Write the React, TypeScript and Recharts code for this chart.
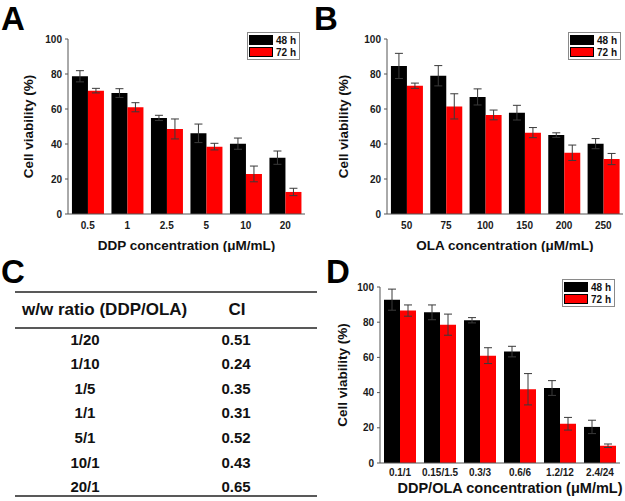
import { Bar, BarChart, ErrorBar, Legend, XAxis, YAxis } from "recharts";

const FONT = '"Liberation Sans", Arial, Helvetica, sans-serif';
const BLACK = "#000000";
const RED = "#ff0000";
const ERR = "#3a3a3a";

// ── panel A: DDP alone ──
const ddpDoses = ["0.5", "1", "2.5", "5", "10", "20"];
const ddp48 = [78.7, 69.1, 54.9, 46.1, 40.2, 32.2];
const ddp48Err = [3.2, 2.5, 1.5, 5.3, 3.2, 3.8];
const ddp72 = [70.5, 61.0, 48.6, 38.5, 22.9, 12.6];
const ddp72Err = [1.3, 2.6, 5.7, 1.9, 4.5, 2.1];

// ── panel B: OLA alone ──
const olaDoses = ["50", "75", "100", "150", "200", "250"];
const ola48 = [84.6, 79.0, 66.9, 57.9, 45.1, 40.2];
const ola48Err = [7.2, 5.8, 4.6, 4.2, 1.3, 2.9];
const ola72 = [73.3, 61.5, 56.6, 46.5, 35.0, 31.4];
const ola72Err = [1.5, 7.2, 2.8, 2.9, 4.4, 3.2];

// ── panel D: combination ──
const comboDoses = ["0.1/1", "0.15/1.5", "0.3/3", "0.6/6", "1.2/12", "2.4/24"];
const combo48 = [92.8, 85.6, 81.1, 63.3, 42.6, 20.5];
const combo48Err = [6.0, 4.2, 1.5, 3.0, 4.2, 3.8];
const combo72 = [86.6, 78.6, 61.0, 41.9, 22.3, 9.8];
const combo72Err = [3.2, 6.0, 4.5, 8.9, 3.6, 1.0];

// ── panel C: combination index table ──
const ratios = ["1/20", "1/10", "1/5", "1/1", "5/1", "10/1", "20/1"];
const ciValues = ["0.51", "0.24", "0.35", "0.31", "0.52", "0.43", "0.65"];

const yTicks = [0, 20, 40, 60, 80, 100];

function rows(cats: string[], a: number[], ae: number[], b: number[], be: number[]) {
  return cats.map((c, i) => ({ dose: c, h48: a[i], e48: ae[i], h72: b[i], e72: be[i] }));
}

function LegendBox() {
  const item = (color: string, text: string) => (
    <div style={{ display: "flex", alignItems: "center", height: 12 }}>
      <div style={{ width: 24, height: 10, background: color, border: "1px solid #000", boxSizing: "border-box" }} />
      <span style={{ marginLeft: 3, fontSize: 10, fontWeight: 700, color: "#111", fontFamily: FONT }}>{text}</span>
    </div>
  );
  return (
    <div style={{ border: "1px solid #8a8a8a", background: "#fff", padding: "1px 3px 1px 1px" }}>
      {item(BLACK, "48 h")}
      {item(RED, "72 h")}
    </div>
  );
}

type PanelProps = {
  data: ReturnType<typeof rows>;
  left: number;
  top: number;
  width: number;
  height: number;
  plotTop: number;
  plotRight: number;
  yWidth: number;
  xHeight: number;
  xTickMargin: number;
  xTitle: string;
  xTitleSize: number;
  xTitleOffset: number;
  xTitleDx?: number;
  yTitleOffset: number;
  legendPos: { left: number; top: number };
};

function ViabilityPanel(p: PanelProps) {
  const tickStyle = { fontSize: 10, fontWeight: 700, fill: "#1a1a1a", fontFamily: FONT };
  return (
    <div style={{ position: "absolute", left: p.left, top: p.top }}>
      <BarChart
        width={p.width}
        height={p.height}
        data={p.data}
        margin={{ top: p.plotTop, right: p.plotRight, bottom: 0, left: 0 }}
        barCategoryGap="10%"
        barGap={0}
      >
        <XAxis
          dataKey="dose"
          height={p.xHeight}
          tickLine={false}
          tickSize={6}
          tickMargin={p.xTickMargin}
          axisLine={{ stroke: "#555", strokeWidth: 1 }}
          tick={tickStyle}
          interval={0}
          label={{
            value: p.xTitle,
            position: "insideBottom",
            offset: p.xTitleOffset,
            dx: p.xTitleDx ?? 0,
            style: { fontSize: p.xTitleSize, fontWeight: 700, fill: "#111", fontFamily: FONT },
          }}
        />
        <YAxis
          width={p.yWidth}
          domain={[0, 100]}
          ticks={yTicks}
          tickSize={3}
          tickMargin={3}
          tickLine={{ stroke: "#555" }}
          axisLine={{ stroke: "#555", strokeWidth: 1 }}
          tick={tickStyle}
          label={{
            value: "Cell viability (%)",
            angle: -90,
            position: "insideLeft",
            offset: p.yTitleOffset,
            style: { textAnchor: "middle", fontSize: 13.5, fontWeight: 700, fill: "#111", fontFamily: FONT },
          }}
        />
        <Legend
          layout="vertical"
          align="center"
          verticalAlign="middle"
          content={() => <LegendBox />}
          wrapperStyle={{ left: p.legendPos.left, top: p.legendPos.top, width: "auto", height: "auto" }}
        />
        <Bar dataKey="h48" name="48 h" fill={BLACK} isAnimationActive={false}>
          <ErrorBar dataKey="e48" width={4} stroke={ERR} strokeWidth={1} direction="y" isAnimationActive={false} />
        </Bar>
        <Bar dataKey="h72" name="72 h" fill={RED} isAnimationActive={false}>
          <ErrorBar dataKey="e72" width={4} stroke={ERR} strokeWidth={1} direction="y" isAnimationActive={false} />
        </Bar>
      </BarChart>
    </div>
  );
}

function CITable() {
  const baseY = (i: number) => 344.5 + i * 24.6;
  const text = { fontFamily: FONT, fontWeight: 700, fill: "#111" } as const;
  return (
    <svg width={625} height={501} style={{ position: "absolute", left: 0, top: 0, pointerEvents: "none" }}>
      <line x1={15} x2={317} y1={292} y2={292} stroke="#222" strokeWidth={1.5} />
      <text x={22} y={315} fontSize={17} {...text}>
        w/w ratio (DDP/OLA)
      </text>
      <text x={237} y={315} fontSize={17} textAnchor="middle" {...text}>
        CI
      </text>
      <line x1={15} x2={317} y1={328} y2={328} stroke="#222" strokeWidth={1.5} />
      {ratios.map((r, i) => (
        <g key={r}>
          <text x={85} y={baseY(i)} fontSize={15} textAnchor="middle" {...text}>
            {r}
          </text>
          <text x={236} y={baseY(i)} fontSize={15} textAnchor="middle" {...text}>
            {ciValues[i]}
          </text>
        </g>
      ))}
      <line x1={15} x2={317} y1={496} y2={496} stroke="#222" strokeWidth={1.5} />
      <text x={1} y={30} fontSize={33} {...text} fill="#000">A</text>
      <text x={314} y={30} fontSize={33} {...text} fill="#000">B</text>
      <text x={1} y={283} fontSize={33} {...text} fill="#000">C</text>
      <text x={326} y={283} fontSize={33} {...text} fill="#000">D</text>
    </svg>
  );
}

export default function App() {
  return (
    <div style={{ position: "fixed", left: 0, top: 0, width: 625, height: 501, background: "#fff", fontFamily: FONT }}>
      <ViabilityPanel
        data={rows(ddpDoses, ddp48, ddp48Err, ddp72, ddp72Err)}
        left={0}
        top={0}
        width={310}
        height={252}
        plotTop={39}
        plotRight={5}
        yWidth={68}
        xHeight={38}
        xTickMargin={2}
        xTitle="DDP concentration (μM/mL)"
        xTitleSize={13.5}
        xTitleOffset={2}
        yTitleOffset={28}
        legendPos={{ left: 247, top: 32 }}
      />
      <ViabilityPanel
        data={rows(olaDoses, ola48, ola48Err, ola72, ola72Err)}
        left={315}
        top={0}
        width={310}
        height={252}
        plotTop={39}
        plotRight={2}
        yWidth={72}
        xHeight={38}
        xTickMargin={2}
        xTitle="OLA concentration (μM/mL)"
        xTitleSize={13.5}
        xTitleOffset={2}
        yTitleOffset={28}
        legendPos={{ left: 253, top: 32 }}
      />
      <ViabilityPanel
        data={rows(comboDoses, combo48, combo48Err, combo72, combo72Err)}
        left={315}
        top={250}
        width={310}
        height={251}
        plotTop={37}
        plotRight={5}
        yWidth={65}
        xHeight={38}
        xTickMargin={0}
        xTitle="DDP/OLA concentration (μM/mL)"
        xTitleSize={14.5}
        xTitleOffset={8}
        xTitleDx={10}
        yTitleOffset={27}
        legendPos={{ left: 247, top: 29 }}
      />
      <CITable />
    </div>
  );
}
